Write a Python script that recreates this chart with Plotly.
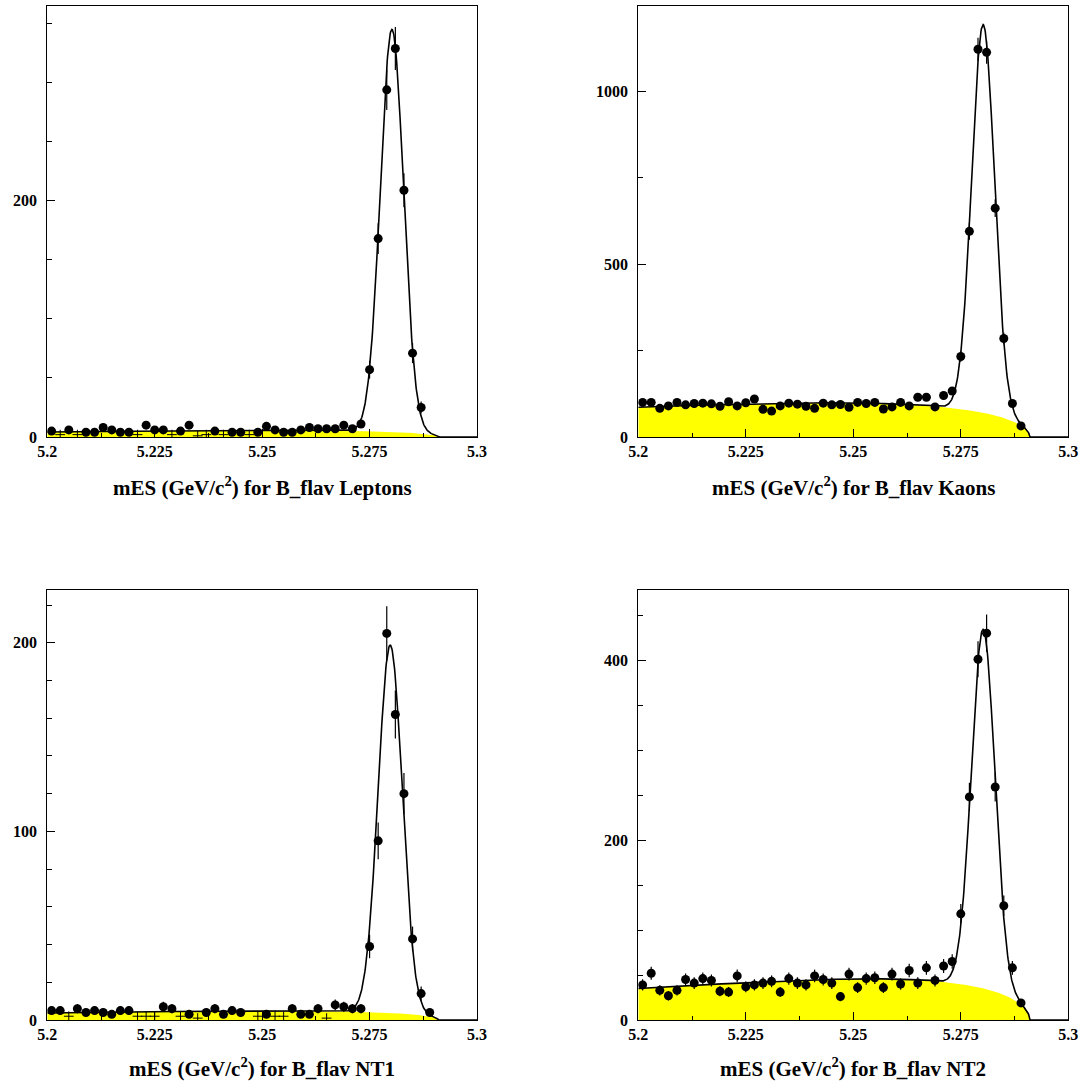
import numpy as np
import plotly.graph_objects as go

# ---------------- data ----------------
# Bin centres in mES (GeV/c^2), bin width 0.002
LEPTONS_X = [5.201, 5.205, 5.209, 5.211, 5.213, 5.215, 5.217, 5.219, 5.223, 5.225,
             5.227, 5.231, 5.233, 5.239, 5.243, 5.245, 5.249, 5.251, 5.253, 5.255,
             5.257, 5.259, 5.261, 5.263, 5.265, 5.267, 5.269, 5.271, 5.273, 5.275,
             5.277, 5.279, 5.281, 5.283, 5.285, 5.287]
LEPTONS_Y = [5, 6, 4, 4, 8, 6, 4, 4, 10, 6,
             6, 5, 10, 5, 4, 4, 4, 9, 6, 4,
             4, 6, 8, 7, 7, 7, 10, 7, 11, 57,
             168, 294, 329, 209, 71, 25]
LEPTONS_LOW_X = [5.203, 5.207, 5.221, 5.229, 5.235, 5.237, 5.241, 5.247]
LEPTONS_LOW_Y = [2, 2, 2, 2, 1, 2, 2, 2]

KAONS_X = [5.201, 5.203, 5.205, 5.207, 5.209, 5.211, 5.213, 5.215, 5.217, 5.219,
           5.221, 5.223, 5.225, 5.227, 5.229, 5.231, 5.233, 5.235, 5.237, 5.239,
           5.241, 5.243, 5.245, 5.247, 5.249, 5.251, 5.253, 5.255, 5.257, 5.259,
           5.261, 5.263, 5.265, 5.267, 5.269, 5.271, 5.273, 5.275, 5.277, 5.279,
           5.281, 5.283, 5.285, 5.287, 5.289]
KAONS_Y = [100, 100, 83, 90, 100, 93, 97, 98, 96, 89,
           102, 90, 99, 110, 80, 75, 90, 98, 95, 89,
           83, 98, 93, 94, 86, 100, 97, 100, 81, 87,
           100, 90, 115, 115, 87, 120, 133, 233, 595, 1122,
           1113, 662, 285, 97, 32]

NT1_X = [5.201, 5.203, 5.207, 5.209, 5.211, 5.213, 5.215, 5.217, 5.219, 5.227,
         5.229, 5.233, 5.237, 5.239, 5.241, 5.243, 5.245, 5.251, 5.257, 5.259,
         5.261, 5.263, 5.267, 5.269, 5.271, 5.273, 5.275, 5.277, 5.279, 5.281,
         5.283, 5.285, 5.287, 5.289]
NT1_Y = [5, 5, 6, 4, 5, 4, 3, 5, 5, 7,
         6, 3, 4, 6, 3, 5, 4, 3, 6, 3,
         3, 6, 8, 7, 6, 6, 39, 95, 205, 162,
         120, 43, 14, 4]
NT1_LOW_X = [5.205, 5.221, 5.223, 5.225, 5.231, 5.235, 5.249, 5.253, 5.255, 5.265]
NT1_LOW_Y = [2, 2, 2, 2, 2, 1, 2, 2, 2, 1]

NT2_X = [5.201, 5.203, 5.205, 5.207, 5.209, 5.211, 5.213, 5.215, 5.217, 5.219,
         5.221, 5.223, 5.225, 5.227, 5.229, 5.231, 5.233, 5.235, 5.237, 5.239,
         5.241, 5.243, 5.245, 5.247, 5.249, 5.251, 5.253, 5.255, 5.257, 5.259,
         5.261, 5.263, 5.265, 5.267, 5.269, 5.271, 5.273, 5.275, 5.277, 5.279,
         5.281, 5.283, 5.285, 5.287, 5.289]
NT2_Y = [39, 52, 33, 27, 33, 45, 41, 46, 44, 32,
         31, 49, 37, 39, 41, 43, 31, 46, 41, 39,
         49, 45, 41, 26, 51, 36, 46, 47, 36, 51,
         40, 55, 41, 58, 44, 60, 65, 118, 248, 401,
         430, 259, 127, 58, 19]

# Fit parameters (Gaussian signal + ARGUS background)
# [mean, sigma, gaussian height, background height at 5.2, ARGUS shape c]
LEPTONS_FIT = [5.2802, 0.0027, 341, 4.2, -35]
KAONS_FIT = [5.2802, 0.00265, 1123, 86, -28]
NT1_FIT = [5.2798, 0.0028, 195, 3.7, -35]
NT2_FIT = [5.2802, 0.00273, 399, 35, -35]
ARGUS_ENDPOINT = 5.291

TITLES = ["mES (GeV/c<sup>2</sup>) for B_flav Leptons",
          "mES (GeV/c<sup>2</sup>) for B_flav Kaons",
          "mES (GeV/c<sup>2</sup>) for B_flav NT1",
          "mES (GeV/c<sup>2</sup>) for B_flav NT2"]

X_TICKS = [5.2, 5.225, 5.25, 5.275, 5.3]
X_TICK_TEXT = ["5.2", "5.225", "5.25", "5.275", "5.3"]
Y_RANGES = [365, 1247, 228, 478]
Y_MAJOR = [[0, 200], [0, 500, 1000], [0, 100, 200], [0, 200, 400]]
Y_MINOR_STEP = [50, 250, 20, 50]

# ---------------- model curves ----------------
def argus(m, m0, c):
    z = 1 - (m / m0) ** 2
    out = np.zeros_like(m)
    ok = z > 0
    out[ok] = m[ok] * np.sqrt(z[ok]) * np.exp(c * z[ok])
    return out


def model(params, m):
    mean, sigma, amp, bg0, c = params
    ref = argus(np.array([5.2]), ARGUS_ENDPOINT, c)[0]
    bg = bg0 * argus(m, ARGUS_ENDPOINT, c) / ref
    sig = amp * np.exp(-0.5 * ((m - mean) / sigma) ** 2)
    return bg, bg + sig


W, H = 1087, 1084
# panel frames in pixels: (left, right, top, bottom)
FRAMES = [(47.3, 477.0, 6.0, 437.0), (638.3, 1068.3, 6.0, 437.0),
          (47.3, 477.0, 590.0, 1020.0), (638.3, 1068.3, 590.0, 1020.0)]
TITLE_Y = [486, 486, 1067, 1067]

panels = [
    (LEPTONS_X, LEPTONS_Y, LEPTONS_LOW_X, LEPTONS_LOW_Y, LEPTONS_FIT),
    (KAONS_X, KAONS_Y, [], [], KAONS_FIT),
    (NT1_X, NT1_Y, NT1_LOW_X, NT1_LOW_Y, NT1_FIT),
    (NT2_X, NT2_Y, [], [], NT2_FIT),
]

fig = go.Figure()
layout = {}
annotations = []
mgrid = np.linspace(5.2, 5.3, 1001)
tick_font = dict(family="Liberation Serif", size=16, color="black", weight="bold")

for k, (px, py, lx, ly, fit) in enumerate(panels):
    n = "" if k == 0 else str(k + 1)
    xa, ya = "x" + n, "y" + n
    bg, tot = model(fit, mgrid)
    # background fill (yellow)
    fig.add_trace(go.Scatter(x=mgrid, y=bg, xaxis=xa, yaxis=ya, mode="lines",
                             line=dict(width=0, color="#ffff00"), fill="tozeroy",
                             fillcolor="#ffff00", hoverinfo="skip", showlegend=False))
    # total fit
    fig.add_trace(go.Scatter(x=mgrid, y=tot, xaxis=xa, yaxis=ya, mode="lines",
                             line=dict(width=1.6, color="black"), showlegend=False))
    # low-count bins drawn as crosses
    if lx:
        fig.add_trace(go.Scatter(x=lx, y=ly, xaxis=xa, yaxis=ya, mode="markers",
                                 marker=dict(symbol="cross-thin", size=7,
                                             line=dict(width=1, color="black")),
                                 showlegend=False))
    # data points with errors
    fig.add_trace(go.Scatter(x=px, y=py, xaxis=xa, yaxis=ya, mode="markers",
                             marker=dict(symbol="circle", size=9, color="black"),
                             error_y=dict(type="data", array=np.sqrt(py), width=0,
                                          thickness=1.2, color="black"),
                             showlegend=False))

    l, r, t, b = FRAMES[k]
    layout["xaxis" + n] = dict(
        domain=[l / W, r / W], anchor=ya, range=[5.2, 5.3], automargin=False,
        tickmode="array", tickvals=X_TICKS, ticktext=X_TICK_TEXT,
        ticks="inside", ticklen=8, tickwidth=1, tickcolor="black",
        minor=dict(tickmode="linear", tick0=5.2, dtick=0.0125, ticks="inside",
                   ticklen=4, tickwidth=1, tickcolor="black"),
        showline=True, linecolor="black", linewidth=1, mirror=True,
        showgrid=False, zeroline=False, tickfont=tick_font,
        ticklabelstandoff=0,
    )
    layout["yaxis" + n] = dict(
        domain=[1 - b / H, 1 - t / H], anchor=xa, range=[0, Y_RANGES[k]],
        automargin=False,
        tickmode="array", tickvals=Y_MAJOR[k],
        ticktext=[str(v) for v in Y_MAJOR[k]],
        ticks="inside", ticklen=8, tickwidth=1, tickcolor="black",
        minor=dict(tickmode="linear", tick0=0, dtick=Y_MINOR_STEP[k], ticks="inside",
                   ticklen=5, tickwidth=1, tickcolor="black"),
        showline=True, linecolor="black", linewidth=1, mirror=True,
        showgrid=False, zeroline=False, tickfont=tick_font,
        ticklabelstandoff=6,
    )
    annotations.append(dict(
        text=TITLES[k], xref="paper", yref="paper",
        x=(l + r) / 2 / W, y=1 - TITLE_Y[k] / H, xanchor="center", yanchor="middle",
        showarrow=False,
        font=dict(family="Liberation Serif", size=21, color="black", weight="bold"),
    ))

fig.update_layout(
    width=W, height=H, margin=dict(l=0, r=0, t=0, b=0, autoexpand=False),
    paper_bgcolor="white", plot_bgcolor="white",
    annotations=annotations, showlegend=False,
    **layout,
)

fig.write_html(
    "out.html",
    config={"displayModeBar": False},
    post_script="document.body.style.margin='0';document.body.style.overflow='hidden';",
)
